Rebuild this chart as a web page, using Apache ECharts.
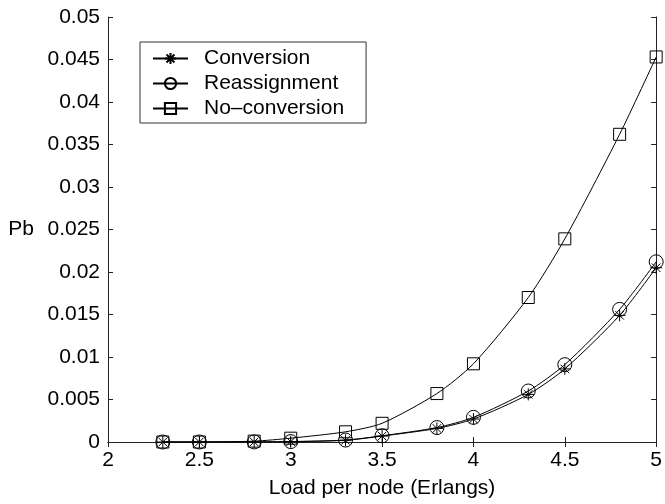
<!DOCTYPE html>
<html>
<head>
<meta charset="utf-8">
<style>
  html, body { margin: 0; padding: 0; background: #fff; }
  #chart { width: 665px; height: 504px; }
</style>
<script src="https://cdn.jsdelivr.net/npm/echarts@6/dist/echarts.min.js"></script>
</head>
<body>
<div id="chart"></div>
<script>
// load per node (Erlangs)
var loads = [2.3, 2.5, 2.8, 3.0, 3.3, 3.5, 3.8, 4.0, 4.3, 4.5, 4.8, 5.0];
// blocking probability Pb
var conversion = [0, 0, 0.00001, 0.00004, 0.0002, 0.0007, 0.0016, 0.0027, 0.0056, 0.0086, 0.0149, 0.0205];
var reassignment = [0, 0, 0.00001, 0.00005, 0.00023, 0.00073, 0.0017, 0.0029, 0.006, 0.0091, 0.0156, 0.0212];
var noConversion = [0, 0, 0.0001, 0.00045, 0.0012, 0.0022, 0.0057, 0.0092, 0.017, 0.0239, 0.0362, 0.0453];

var font = "'Liberation Sans', Arial, Helvetica, sans-serif";
var asterisk = 'path://M0,-10L0,10M-10,0L10,0M-7.07,-7.07L7.07,7.07M-7.07,7.07L7.07,-7.07';

function pairs(ys) {
    return loads.map(function (x, i) { return [x, ys[i]]; });
}

function makeSeries(name, ys, symbol, size) {
    return {
        name: name,
        type: 'line',
        data: pairs(ys),
        smooth: 0.25,
        symbol: symbol,
        symbolSize: size,
        showAllSymbol: true,
        lineStyle: { color: '#000', width: 1 },
        itemStyle: { color: 'transparent', borderColor: '#000', borderWidth: 1 },
        emphasis: { disabled: true },
        silent: true,
        animation: false
    };
}

var chart = echarts.init(document.getElementById('chart'));

var boxAxis = {
    axisLine: { show: true, lineStyle: { color: '#222', width: 1 } },
    axisTick: { show: true, inside: true, length: 5, lineStyle: { color: '#222' } },
    splitLine: { show: false }
};

var option = {
    backgroundColor: '#fff',
    animation: false,
    textStyle: { fontFamily: font, color: '#000' },
    grid: { left: 108, right: 8, top: 17, bottom: 56 },
    legend: {
        data: ['Conversion', 'Reassignment', 'No–conversion'],
        orient: 'vertical',
        left: 140,
        top: 42,
        padding: [6, 22, 4, 12],
        itemGap: 4,
        itemWidth: 35,
        itemHeight: 14,
        borderColor: '#333',
        borderWidth: 1,
        backgroundColor: '#fff',
        selectedMode: false,
        textStyle: { fontFamily: font, fontSize: 21, color: '#000', padding: [0, 0, 0, 11] }
    },
    xAxis: [
        Object.assign({
            type: 'value', min: 2, max: 5, interval: 0.5,
            name: 'Load per node (Erlangs)',
            nameLocation: 'middle',
            nameGap: 36,
            nameTextStyle: { fontFamily: font, fontSize: 21, color: '#000' },
            axisLabel: { fontFamily: font, fontSize: 21, color: '#000', margin: 8 }
        }, boxAxis),
        Object.assign({
            type: 'value', min: 2, max: 5, interval: 0.5, position: 'top',
            axisLabel: { show: false }
        }, boxAxis)
    ],
    yAxis: [
        Object.assign({
            type: 'value', min: 0, max: 0.05, interval: 0.005,
            name: 'Pb',
            nameLocation: 'middle',
            nameRotate: 0,
            nameGap: 87,
            nameTextStyle: { fontFamily: font, fontSize: 21, color: '#000', align: 'center' },
            axisLabel: { fontFamily: font, fontSize: 21, color: '#000', margin: 8 }
        }, boxAxis),
        Object.assign({
            type: 'value', min: 0, max: 0.05, interval: 0.005, position: 'right',
            axisLabel: { show: false }
        }, boxAxis)
    ],
    series: [
        makeSeries('Conversion', conversion, asterisk, 12),
        makeSeries('Reassignment', reassignment, 'circle', 14),
        makeSeries('No–conversion', noConversion, 'rect', 12)
    ]
};

chart.setOption(option);
window.addEventListener('resize', function () {
    chart.resize();
});
</script>
</body>
</html>
